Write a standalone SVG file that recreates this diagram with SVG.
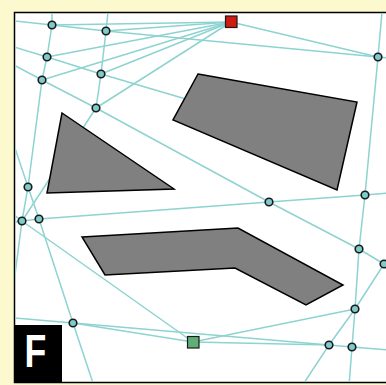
<svg xmlns="http://www.w3.org/2000/svg" width="386" height="385" viewBox="0 0 386 385">
  <style>
    .edge { fill: none; stroke: #8dd3d1; stroke-width: 1.5; }
    .node { fill: #7ecbcb; stroke: #1a1a1a; stroke-width: 1.6; }
    .obstacle { fill: #808080; stroke: #000; stroke-width: 1.5; stroke-linejoin: miter; }
  </style>
  <defs>
    <clipPath id="panelClip">
      <rect x="15" y="13" width="380" height="369"/>
    </clipPath>
  </defs>

  <!-- page background and panel -->
  <rect x="0" y="0" width="386" height="385" fill="#fdf9cf"/>
  <rect x="14.5" y="12.5" width="400" height="370" fill="#ffffff" stroke="#000" stroke-width="1.5"/>

  <!-- roadmap edges -->
  <g id="connectors" clip-path="url(#panelClip)">
    <polyline class="edge" points="14,21 52,25 106,31 378,57 390,58"/>
    <polyline class="edge" points="52,12 52,25 47,57 42,80 28,187 22,221 13,290"/>
    <polyline class="edge" points="108,12 106,31 101,74 96,108"/>
    <polyline class="edge" points="14,47 47,57 101,74 250,118"/>
    <polyline class="edge" points="14,65 42,80 96,108 269,202 359,249 384,264 390,267"/>
    <polyline class="edge" points="14,222 22,221 39,219 269,202 365,195 390,193"/>
    <polyline class="edge" points="382,12 378,57 365,195 359,249 355,309 352,347 349,386"/>
    <polyline class="edge" points="14,145 28,187 39,219 73,323 94,386"/>
    <polyline class="edge" points="14,318 73,323 329,345 352,347 390,350"/>
    <polyline class="edge" points="390,258 384,264 355,309 329,345 302,386"/>
    <polyline class="edge" points="14,215 22,221 193,342"/>
    <polyline class="edge" points="73,323 193,342 355,309"/>
    <polyline class="edge" points="193,342 329,345"/>
    <polyline class="edge" points="96,108 22,221"/>
    <!-- fan into the start square -->
    <line class="edge" x1="231" y1="22" x2="52" y2="25"/>
    <line class="edge" x1="231" y1="22" x2="106" y2="31"/>
    <line class="edge" x1="231" y1="22" x2="47" y2="57"/>
    <line class="edge" x1="231" y1="22" x2="42" y2="80"/>
    <line class="edge" x1="231" y1="22" x2="101" y2="74"/>
    <line class="edge" x1="231" y1="22" x2="96" y2="108"/>
    <line class="edge" x1="231" y1="22" x2="378" y2="57"/>
  </g>

  <!-- obstacles -->
  <g id="obstacles">
    <polygon id="obstacle-triangle" class="obstacle" points="62,113 174,189 47,193"/>
    <polygon id="obstacle-quad" class="obstacle" points="198,74 357,102 337,190 173,120"/>
    <polygon id="obstacle-bent" class="obstacle" points="82,237 238,228 343,285 306,305 235,268 105,275"/>
  </g>

  <!-- roadmap nodes -->
  <g id="nodes">
    <circle id="n1" class="node" cx="52" cy="25" r="3.8"/>
    <circle id="n2" class="node" cx="106" cy="31" r="3.8"/>
    <circle id="n3" class="node" cx="47" cy="57" r="3.8"/>
    <circle id="n4" class="node" cx="101" cy="74" r="3.8"/>
    <circle id="n5" class="node" cx="42" cy="80" r="3.8"/>
    <circle id="n6" class="node" cx="96" cy="108" r="3.8"/>
    <circle id="n7" class="node" cx="378" cy="57" r="3.8"/>
    <circle id="n8" class="node" cx="28" cy="187" r="3.8"/>
    <circle id="n9" class="node" cx="22" cy="221" r="3.8"/>
    <circle id="n10" class="node" cx="39" cy="219" r="3.8"/>
    <circle id="n11" class="node" cx="269" cy="202" r="3.8"/>
    <circle id="n12" class="node" cx="365" cy="195" r="3.8"/>
    <circle id="n13" class="node" cx="359" cy="249" r="3.8"/>
    <circle id="n14" class="node" cx="384" cy="264" r="3.8"/>
    <circle id="n15" class="node" cx="355" cy="309" r="3.8"/>
    <circle id="n16" class="node" cx="73" cy="323" r="3.8"/>
    <circle id="n17" class="node" cx="329" cy="345" r="3.8"/>
    <circle id="n18" class="node" cx="352" cy="347" r="3.8"/>
    <g id="start">
      <rect x="225.5" y="16" width="11.5" height="11.5" fill="#d01c10" stroke="#1a1a1a" stroke-width="1.2"/>
    </g>
    <g id="goal">
      <rect x="187.5" y="336.5" width="11.5" height="11.5" fill="#5fae76" stroke="#1a1a1a" stroke-width="1.2"/>
    </g>
  </g>

  <!-- panel letter -->
  <g id="label">
    <rect x="14" y="325" width="48" height="58" fill="#000"/>
    <text x="0" y="0" transform="translate(24.5,367) scale(0.76,1)" font-family="'Liberation Sans', Arial, sans-serif" font-weight="bold" font-size="47" fill="#fff">F</text>
  </g>
</svg>
